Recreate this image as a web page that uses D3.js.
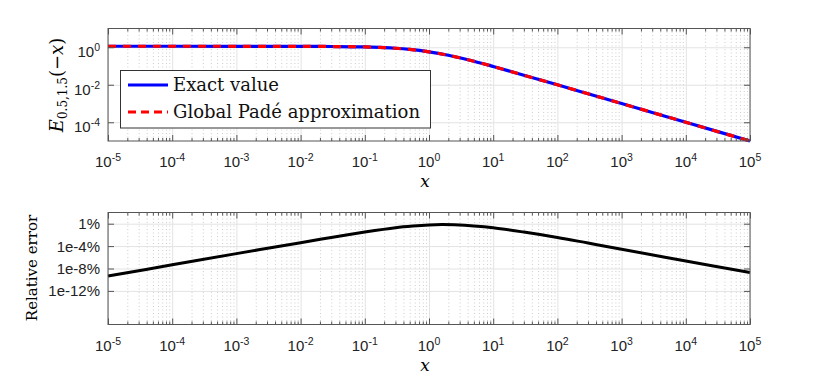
<!DOCTYPE html>
<html>
<head>
<meta charset="utf-8">
<script src="https://cdn.jsdelivr.net/npm/d3@7"></script>
<style>
  body { margin: 0; background: #fff; }
  svg { display: block; }
</style>
</head>
<body>
<div id="chart-container"></div>
<script>
// values
const xMajorTicks = [1e-5, 1e-4, 1e-3, 1e-2, 1e-1, 1e0, 1e1, 1e2, 1e3, 1e4, 1e5];
const xTickExponents = ['-5', '-4', '-3', '-2', '-1', '0', '1', '2', '3', '4', '5'];

const fnX = [1e-5, 1e-4, 1e-3, 1e-2, 0.03, 0.1, 0.2, 0.3, 0.5, 1, 2, 3, 5, 10, 30, 100, 300, 1e3, 1e4, 1e5];
const exactValue = [1.128, 1.128, 1.127, 1.117, 1.095, 1.036, 0.955, 0.885, 0.769, 0.572, 0.372, 0.274, 0.178, 0.094, 0.0323, 0.0099, 0.00332, 0.001, 1e-4, 1e-5];
const padeValue = [1.128, 1.128, 1.127, 1.117, 1.095, 1.036, 0.955, 0.885, 0.769, 0.572, 0.372, 0.274, 0.178, 0.094, 0.0323, 0.0099, 0.00332, 0.001, 1e-4, 1e-5];

const topYTicks = [1e0, 1e-2, 1e-4];
const topYExponents = ['0', '-2', '-4'];

const errX = [1e-5, 1e-4, 1e-3, 1e-2, 0.03, 0.1, 0.3, 0.56, 1, 1.6, 2.5, 5, 10, 30, 100, 300, 1e3, 1e4, 1e5];
const relErrPercent = [4.5e-10, 4.5e-8, 4.5e-6, 4e-4, 3.5e-3, 0.032, 0.19, 0.38, 0.6, 0.72, 0.63, 0.4, 0.19, 0.032, 3.5e-3, 3.5e-4, 2.8e-5, 2.2e-7, 2e-9];

const botYTicks = [1, 1e-4, 1e-8, 1e-12];
const botYLabels = ['1%', '1e-4%', '1e-8%', '1e-12%'];

const legendLabels = ['Exact value', 'Global Padé approximation'];

const width = 830;
const height = 387;
const left = 108;
const right = 750;

const tickFont = '"Liberation Sans", Arial, sans-serif';
const serifFont = '"DejaVu Serif", "Liberation Serif", serif';

const minorTicks = [];
for (let e = -5; e < 5; e += 1) {
  for (let k = 2; k <= 9; k += 1) minorTicks.push(k * 10 ** e);
}

const svg = d3
  .select('#chart-container')
  .append('svg')
  .attr('width', width)
  .attr('height', height);

const x = d3.scaleLog().domain([1e-5, 1e5]).range([left, right]);

const addSup = (text, base, exp) => {
  text.append('tspan').text(base);
  text.append('tspan').attr('dy', -6).attr('font-size', 10.5).text(exp);
};

const drawPanel = (g, y, yTicks, top, bottom) => {
  const h = bottom - top;

  // grid
  g.append('g')
    .attr('transform', `translate(0,${bottom})`)
    .call(d3.axisBottom(x).tickValues(minorTicks).tickSize(-h).tickFormat(''))
    .call((a) => a.select('.domain').remove())
    .selectAll('line')
    .attr('stroke', '#cdcdcd')
    .attr('stroke-dasharray', '1,2.5');

  g.append('g')
    .attr('transform', `translate(0,${bottom})`)
    .call(d3.axisBottom(x).tickValues(xMajorTicks).tickSize(-h).tickFormat(''))
    .call((a) => a.select('.domain').remove())
    .selectAll('line')
    .attr('stroke', '#e3e3e3');

  g.append('g')
    .attr('transform', `translate(${left},0)`)
    .call(d3.axisLeft(y).tickValues(yTicks).tickSize(-(right - left)).tickFormat(''))
    .call((a) => a.select('.domain').remove())
    .selectAll('line')
    .attr('stroke', '#e3e3e3');
};

const drawFrame = (g, y, yTicks, top, bottom) => {
  const axisColor = '#555';
  const style = (a) => {
    a.select('.domain').remove();
    a.selectAll('line').attr('stroke', axisColor);
  };

  g.append('g').attr('transform', `translate(0,${bottom})`)
    .call(d3.axisBottom(x).tickValues(minorTicks).tickSize(-3).tickFormat('')).call(style);
  g.append('g').attr('transform', `translate(0,${bottom})`)
    .call(d3.axisBottom(x).tickValues(xMajorTicks).tickSize(-6).tickFormat('')).call(style);
  g.append('g').attr('transform', `translate(0,${top})`)
    .call(d3.axisTop(x).tickValues(minorTicks).tickSize(-3).tickFormat('')).call(style);
  g.append('g').attr('transform', `translate(0,${top})`)
    .call(d3.axisTop(x).tickValues(xMajorTicks).tickSize(-6).tickFormat('')).call(style);
  g.append('g').attr('transform', `translate(${left},0)`)
    .call(d3.axisLeft(y).tickValues(yTicks).tickSize(-6).tickFormat('')).call(style);
  g.append('g').attr('transform', `translate(${right},0)`)
    .call(d3.axisRight(y).tickValues(yTicks).tickSize(-6).tickFormat('')).call(style);

  g.append('rect')
    .attr('x', left)
    .attr('y', top)
    .attr('width', right - left)
    .attr('height', bottom - top)
    .attr('fill', 'none')
    .attr('stroke', axisColor)
    .attr('stroke-width', 1);

  // x tick labels
  g.selectAll('.xlab')
    .data(xMajorTicks)
    .enter()
    .append('text')
    .attr('x', (d) => x(d))
    .attr('y', bottom + 26)
    .attr('text-anchor', 'middle')
    .attr('font-family', tickFont)
    .attr('font-size', 15)
    .attr('fill', '#222')
    .each(function (d, i) { addSup(d3.select(this), '10', xTickExponents[i]); });

  g.append('text')
    .attr('x', (left + right) / 2 - 4)
    .attr('y', bottom + 46)
    .attr('text-anchor', 'middle')
    .attr('font-family', serifFont)
    .attr('font-style', 'italic')
    .attr('font-size', 17)
    .text('x');
};

// top panel
const topY = d3.scaleLog().domain([1e-5, 1e1]).range([141, 28.5]);
const gTop = svg.append('g');
drawPanel(gTop, topY, topYTicks, 28.5, 141);

const line = (yScale, curve) => d3
  .line()
  .x((d) => x(d[0]))
  .y((d) => yScale(d[1]))
  .curve(curve);

gTop.append('path')
  .datum(fnX.map((v, i) => [v, exactValue[i]]))
  .attr('d', line(topY, d3.curveMonotoneX))
  .attr('fill', 'none')
  .attr('stroke', '#0000ff')
  .attr('stroke-width', 3.2);

gTop.append('path')
  .datum(fnX.map((v, i) => [v, padeValue[i]]))
  .attr('d', line(topY, d3.curveMonotoneX))
  .attr('fill', 'none')
  .attr('stroke', '#ff0000')
  .attr('stroke-width', 3.2)
  .attr('stroke-dasharray', '8,7');

drawFrame(gTop, topY, topYTicks, 28.5, 141);

gTop.selectAll('.ylab')
  .data(topYTicks)
  .enter()
  .append('text')
  .attr('x', 100)
  .attr('y', (d) => topY(d) + 10)
  .attr('text-anchor', 'end')
  .attr('font-family', tickFont)
  .attr('font-size', 15)
  .attr('fill', '#222')
  .each(function (d, i) { addSup(d3.select(this), '10', topYExponents[i]); });

const yTitle = gTop.append('text')
  .attr('transform', 'translate(63,85) rotate(-90)')
  .attr('text-anchor', 'middle')
  .attr('font-family', serifFont)
  .attr('font-size', 18);
yTitle.append('tspan').attr('font-style', 'italic').text('E');
yTitle.append('tspan').attr('font-size', 12).attr('dy', 4).text('0.5,1.5');
yTitle.append('tspan').attr('dy', -4).text('(−');
yTitle.append('tspan').attr('font-style', 'italic').text('x');
yTitle.append('tspan').text(')');

// legend
const legend = gTop.append('g');
legend.append('rect')
  .attr('x', 120.5)
  .attr('y', 70.5)
  .attr('width', 310)
  .attr('height', 57.5)
  .attr('fill', '#fff')
  .attr('stroke', '#333')
  .attr('stroke-width', 1);

const legendRows = legend.selectAll('.row')
  .data(legendLabels)
  .enter()
  .append('g')
  .attr('transform', (_, i) => `translate(0,${85 + i * 27})`);

legendRows.append('line')
  .attr('x1', 128)
  .attr('x2', 168)
  .attr('stroke', (_, i) => (i === 0 ? '#0000ff' : '#ff0000'))
  .attr('stroke-width', 3.2)
  .attr('stroke-dasharray', (_, i) => (i === 0 ? null : '8,5'));

legendRows.append('text')
  .attr('x', 173)
  .attr('y', 6)
  .attr('font-family', serifFont)
  .attr('font-size', 18)
  .attr('fill', '#111')
  .text((d) => d);

// bottom panel
const botY = d3.scaleLog().domain([1e-18, 1e2]).range([324.5, 212.5]);
const gBot = svg.append('g');
drawPanel(gBot, botY, botYTicks, 212.5, 324.5);

gBot.append('path')
  .datum(errX.map((v, i) => [v, relErrPercent[i]]))
  .attr('d', line(botY, d3.curveCatmullRom.alpha(0.5)))
  .attr('fill', 'none')
  .attr('stroke', '#000')
  .attr('stroke-width', 3);

drawFrame(gBot, botY, botYTicks, 212.5, 324.5);

gBot.selectAll('.ylab')
  .data(botYTicks)
  .enter()
  .append('text')
  .attr('x', 100)
  .attr('y', (d) => botY(d) + 5.5)
  .attr('text-anchor', 'end')
  .attr('font-family', tickFont)
  .attr('font-size', 15)
  .attr('fill', '#222')
  .text((_, i) => botYLabels[i]);

gBot.append('text')
  .attr('transform', 'translate(37,268) rotate(-90)')
  .attr('text-anchor', 'middle')
  .attr('font-family', serifFont)
  .attr('font-size', 15)
  .text('Relative error');
</script>
</body>
</html>
